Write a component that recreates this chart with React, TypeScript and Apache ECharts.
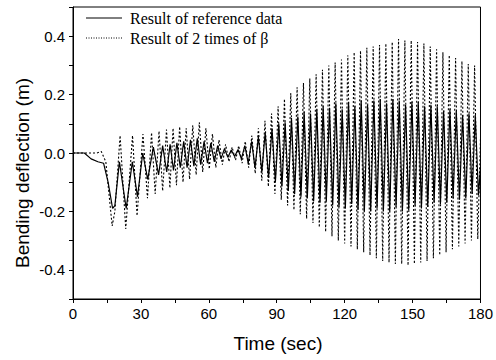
import React, { useEffect, useRef } from "react";
import * as echarts from "echarts";

const seriesNames = ["Result of reference data", "Result of 2 times of \u03B2"];
const xLabelValues = [0, 30, 60, 90, 120, 150, 180];

// [time (sec), bending deflection (m)] — extremes
const referenceData: number[][] = [
  [0, 0], [5, 0], [8, -0.02], [11, -0.03], [13.5, -0.035], [15.5, -0.1], [17.5, -0.19], [18.5, -0.18],
  [20.5, -0.03], [23.5, -0.19], [26.2, -0.03], [28.5, -0.15], [30.8, 0.0], [33, -0.09], [35.5, 0.02],
  [37.8, -0.075], [39.6, 0.025], [41.4, -0.065], [42.9, 0.03], [44.4, -0.06], [45.9, 0.035], [47.4, -0.05],
  [48.9, 0.04], [50.4, -0.05], [51.9, 0.045], [53.4, -0.045], [54.9, 0.05], [56.4, -0.04], [57.9, 0.04],
  [59.4, -0.035], [60.9, 0.035], [62.4, -0.03], [63.9, 0.025], [65.4, -0.02], [66.9, 0.015], [68.4, -0.015],
  [69.9, 0.01], [71.4, -0.012], [72.9, 0.012], [74.4, -0.02], [75.9, 0.025], [77.4, -0.035], [78.9, 0.04],
  [80.4, -0.05], [81.9, 0.055], [83.4, -0.065], [84.9, 0.07], [86.4, -0.085], [87.9, 0.085], [89.4, -0.1],
  [90.9, 0.1], [92.3, -0.115], [93.7, 0.105], [95.1, -0.13], [96.5, 0.12], [97.9, -0.14], [99.3, 0.125],
  [100.7, -0.15], [102.1, 0.14], [103.5, -0.155], [104.9, 0.135], [106.3, -0.165], [107.7, 0.15], [109.1, -0.17],
  [110.5, 0.16], [111.9, -0.165], [113.3, 0.155], [114.7, -0.18], [116.1, 0.17], [117.5, -0.185], [118.9, 0.15],
  [120.3, -0.19], [121.7, 0.175], [123.1, -0.175], [124.5, 0.16], [125.9, -0.195], [127.3, 0.18], [128.7, -0.2],
  [130.1, 0.165], [131.5, -0.2], [132.9, 0.18], [134.3, -0.19], [135.7, 0.185], [137.1, -0.2], [138.5, 0.17],
  [139.9, -0.2], [141.3, 0.185], [142.7, -0.185], [144.1, 0.18], [145.5, -0.2], [146.9, 0.165], [148.3, -0.195],
  [149.7, 0.175], [151.1, -0.18], [152.5, 0.175], [153.9, -0.19], [155.3, 0.16], [156.7, -0.185], [158.1, 0.165],
  [159.5, -0.17], [160.9, 0.16], [162.3, -0.175], [163.7, 0.145], [165.1, -0.17], [166.5, 0.15], [167.9, -0.155],
  [169.3, 0.145], [170.7, -0.16], [172.1, 0.13], [173.5, -0.155], [174.9, 0.135], [176.3, -0.14], [177.7, 0.13],
  [179.1, -0.145], [180, -0.05],
];

const betaData: number[][] = [
  [0, 0], [8, 0], [10.5, 0.0], [12.5, 0.005], [14.5, -0.03], [17.3, -0.25], [18.5, -0.2], [20.8, 0.06],
  [23.3, -0.26], [26.3, 0.06], [28.3, -0.215], [30.9, 0.065], [32.9, -0.155], [34.7, 0.07], [36.3, -0.14],
  [38.0, 0.075], [39.6, -0.13], [41.3, 0.08], [42.8, -0.12], [44.2, 0.085], [45.7, -0.11], [47.1, 0.09],
  [48.6, -0.1], [50.0, 0.085], [51.5, -0.09], [52.9, 0.095], [54.4, -0.075], [55.8, 0.105], [57.3, -0.065],
  [58.7, 0.085], [60.2, -0.055], [61.6, 0.065], [63.1, -0.05], [64.5, 0.045], [66.0, -0.04], [67.4, 0.03],
  [68.9, -0.03], [70.3, 0.02], [71.8, -0.025], [73.2, 0.025], [74.7, -0.035], [76.1, 0.04], [77.6, -0.05],
  [79.0, 0.06], [80.5, -0.07], [81.9, 0.085], [83.4, -0.095], [84.8, 0.11], [86.3, -0.115], [87.7, 0.135],
  [89.2, -0.14], [90.6, 0.16], [92.0, -0.16], [93.4, 0.185], [94.8, -0.18], [96.2, 0.205], [97.6, -0.195],
  [99.0, 0.225], [100.4, -0.21], [101.8, 0.24], [103.2, -0.225], [104.6, 0.255], [106.0, -0.24], [107.4, 0.27],
  [108.8, -0.255], [110.2, 0.285], [111.6, -0.27], [113.0, 0.3], [114.4, -0.285], [115.8, 0.31], [117.2, -0.3],
  [118.6, 0.32], [120.0, -0.31], [121.4, 0.335], [122.8, -0.32], [124.2, 0.345], [125.6, -0.33], [127.0, 0.35],
  [128.4, -0.34], [129.8, 0.36], [131.2, -0.35], [132.6, 0.365], [134.0, -0.36], [135.4, 0.37], [136.8, -0.37],
  [138.2, 0.375], [139.6, -0.375], [141.0, 0.38], [142.4, -0.38], [143.8, 0.39], [145.2, -0.38], [146.6, 0.385],
  [148.0, -0.385], [149.4, 0.385], [150.8, -0.38], [152.2, 0.38], [153.6, -0.375], [155.0, 0.375], [156.4, -0.37],
  [157.8, 0.365], [159.2, -0.36], [160.6, 0.355], [162.0, -0.35], [163.4, 0.345], [164.8, -0.34], [166.2, 0.335],
  [167.6, -0.33], [169.0, 0.325], [170.4, -0.32], [171.8, 0.315], [173.2, -0.31], [174.6, 0.305], [176.0, -0.3],
  [177.4, 0.3], [178.8, -0.295], [180, 0.05],
];

export default function App() {
  const ref = useRef<HTMLDivElement>(null);
  useEffect(() => {
    const chart = echarts.init(ref.current!, null, { renderer: "svg" });
    const sans = "Liberation Sans, Arial, sans-serif";
    const serif = "Liberation Serif, Times New Roman, serif";
    chart.setOption({
      animation: false,
      backgroundColor: "#fff",
      grid: { left: 73, right: 15, top: 7, bottom: 61, show: true, borderColor: "#000", borderWidth: 1 },
      xAxis: {
        type: "value",
        min: 0,
        max: 180,
        interval: 30,
        axisLine: { onZero: false, lineStyle: { color: "#000", width: 1 } },
        axisTick: { show: true, length: 4, lineStyle: { color: "#000" } },
        minorTick: { show: true, splitNumber: 2, length: 4, lineStyle: { color: "#000" } },
        splitLine: { show: false },
        axisLabel: {
          color: "#000", fontSize: 15, fontFamily: sans, margin: 7,
          formatter: (v: number) => (xLabelValues.includes(v) ? String(v) : ""),
        },
      },
      yAxis: {
        type: "value",
        min: -0.5,
        max: 0.5,
        interval: 0.1,
        axisLine: { show: true, onZero: false, lineStyle: { color: "#000", width: 1 } },
        axisTick: { show: true, length: 4, lineStyle: { color: "#000" } },
        splitLine: { show: false },
        axisLabel: {
          color: "#000", fontSize: 15, fontFamily: sans, margin: 8,
          formatter: (v: number) => {
            const k = Math.round(v * 10);
            if (Math.abs(k) % 2 !== 0 || Math.abs(k) > 4) return "";
            if (k === 0) return "0.0";
            return (k / 10).toFixed(1);
          },
        },
      },
      graphic: [
        {
          type: "text",
          x: 22,
          y: 173,
          rotation: Math.PI / 2,
          style: {
            text: "Bending deflection (m)",
            fontFamily: sans,
            fontSize: 19,
            fill: "#000",
            textAlign: "center",
            textVerticalAlign: "middle",
          },
        },
        {
          type: "text",
          x: 278,
          y: 343,
          style: {
            text: "Time (sec)",
            fontFamily: sans,
            fontSize: 19,
            fill: "#000",
            textAlign: "center",
            textVerticalAlign: "middle",
          },
        },
        {
          type: "line",
          shape: { x1: 86, y1: 18, x2: 122, y2: 18 },
          style: { stroke: "#000", lineWidth: 1 },
        },
        {
          type: "text",
          x: 130,
          y: 18,
          style: { text: seriesNames[0], fontFamily: serif, fontSize: 16, fill: "#000", textVerticalAlign: "middle" },
        },
        {
          type: "line",
          shape: { x1: 86, y1: 38, x2: 122, y2: 38 },
          style: { stroke: "#000", lineWidth: 1, lineDash: [1, 1.5] },
        },
        {
          type: "text",
          x: 130,
          y: 38,
          style: { text: seriesNames[1], fontFamily: serif, fontSize: 16, fill: "#000", textVerticalAlign: "middle" },
        },
      ],
      series: [
        {
          name: seriesNames[0],
          type: "line",
          data: referenceData,
          symbol: "none",
          z: 3,
          lineStyle: { color: "#000", width: 1.2, type: "solid" },
        },
        {
          name: seriesNames[1],
          type: "line",
          data: betaData,
          symbol: "none",
          z: 2,
          lineStyle: { color: "#000", width: 1.1, type: [2, 2] },
        },
      ],
    });
    return () => chart.dispose();
  }, []);
  return <div ref={ref} style={{ position: "fixed", left: 0, top: 0, width: 496, height: 360 }} />;
}
